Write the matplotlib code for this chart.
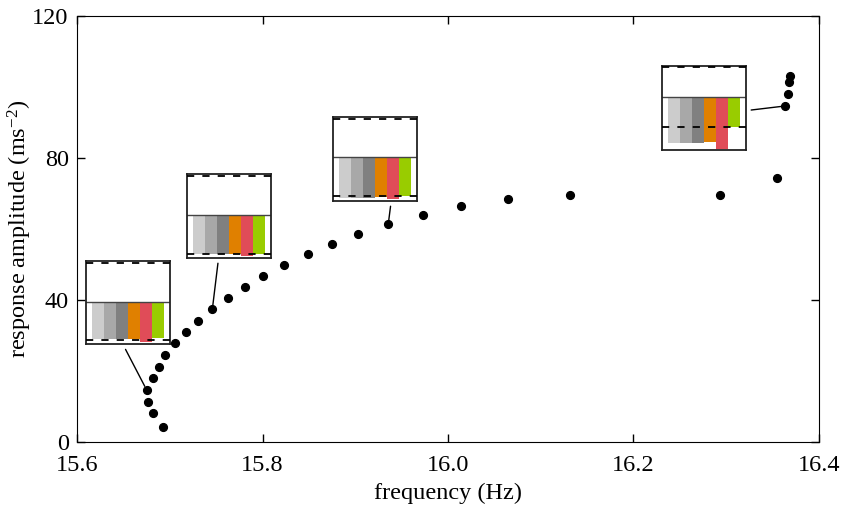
import matplotlib
matplotlib.use("Agg")
import matplotlib.pyplot as plt

plt.rcParams['font.family'] = ['Liberation Serif', 'DejaVu Serif']
plt.rcParams['mathtext.fontset'] = 'custom'
plt.rcParams['mathtext.rm'] = 'Liberation Serif'
plt.rcParams['mathtext.it'] = 'Liberation Serif:italic'

# measured response curve
freq = [15.6930, 15.6816, 15.6762, 15.6751, 15.6819, 15.6881, 15.6949, 15.7057,
        15.7172, 15.7301, 15.7459, 15.7625, 15.7811, 15.8009, 15.8235, 15.8487,
        15.8746, 15.9030, 15.9356, 15.9727, 16.0143, 16.0650, 16.1315, 16.2933,
        16.3544, 16.3633, 16.3662, 16.3680, 16.3687]
amp = [4.3, 8.1, 11.35, 14.65, 17.9, 21.2, 24.5, 27.8,
       31.0, 34.1, 37.4, 40.6, 43.75, 46.8, 49.9, 53.0,
       55.7, 58.7, 61.4, 64.0, 66.4, 68.4, 69.5, 69.6,
       74.45, 94.65, 97.9, 101.3, 103.1]

xticks = [15.6, 15.8, 16.0, 16.2, 16.4]
yticks = [0, 40, 80, 120]

bar_colors = ['#cccccc', '#a8a8a8', '#808080', '#e08000', '#e04c58', '#99cc00']

# inset bars for selected points (index into freq/amp)
inset_point = [3, 10, 18, 25]
inset_bars = [
    [-0.97, -0.97, -0.97, -0.97, -1.04, -0.95],
    [-1.01, -1.01, -1.01, -1.00, -1.04, -1.00],
    [-1.06, -1.06, -1.06, -1.04, -1.09, -1.00],
    [-1.53, -1.53, -1.53, -1.50, -1.75, -1.00],
]
inset_ylim = [(-1.11, 1.07), (-1.095, 1.05), (-1.125, 1.04), (-1.78, 1.03)]
# inset box (axes fraction) and where the pointer leaves the box
inset_box = [(0.0121, 0.229), (0.1478, 0.4326), (0.3454, 0.5664), (0.788, 0.6854)]
inset_size = (0.1132, 0.1965)
pointer_from = [(0.44, 0.0), (0.38, 0.0), (0.69, 0.0), (1.0, 0.47)]

fs = 17.5

fig = plt.figure(figsize=(8.41, 5.13), dpi=100)
ax = fig.add_axes([0.0916, 0.1384, 0.8822, 0.8304])

ax.plot(freq, amp, 'o', color='k', ms=5.6, zorder=5, clip_on=False)

ax.set_xlim(15.6, 16.4)
ax.set_ylim(0, 120)
ax.set_xticks(xticks)
ax.set_xticklabels(['%.1f' % v for v in xticks])
ax.set_yticks(yticks)
ax.tick_params(direction='in', length=6, width=1, top=True, right=True,
               labelsize=fs)
ax.tick_params(axis='y', pad=6)
ax.tick_params(axis='x', pad=9)
ax.set_xlabel('frequency (Hz)', fontsize=fs, labelpad=5)
ax.set_ylabel(r'response amplitude (ms$^{-2}$)', fontsize=fs)
ax.yaxis.set_label_coords(-0.058, 0.5)

for i in range(len(inset_bars)):
    ins = ax.inset_axes([inset_box[i][0], inset_box[i][1], inset_size[0], inset_size[1]])
    ins.bar(range(6), inset_bars[i], width=1.0, color=bar_colors, zorder=1)
    ins.axhline(0, color='#444444', lw=1.0, zorder=2)
    ins.axhline(1, color='k', lw=1.3, ls=(0, (4, 4.5)), zorder=3)
    ins.axhline(-1, color='k', lw=1.3, ls=(0, (4, 4.5)), zorder=3)
    ins.set_xlim(-1, 6)
    ins.set_ylim(*inset_ylim[i])
    ins.set_xticks([])
    ins.set_yticks([])
    for s in ins.spines.values():
        s.set_linewidth(1.3)
        s.set_color('#222222')

    p = inset_point[i]
    ax.annotate('', xy=(freq[p], amp[p]), xycoords='data',
                xytext=pointer_from[i], textcoords=ins,
                arrowprops=dict(arrowstyle='-', color='k', lw=1.0,
                                shrinkA=4, shrinkB=3))

fig.savefig('out.png', dpi=100)
